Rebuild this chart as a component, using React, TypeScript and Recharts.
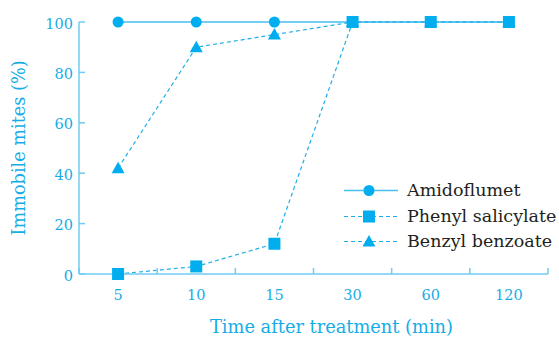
import React from 'react';
import { LineChart, Line, XAxis, YAxis, Legend } from 'recharts';

const categories = ['5', '10', '15', '30', '60', '120'];
const amidoflumet = [100, 100, 100, 100, 100, 100];
const phenylSalicylate = [0, 3, 12, 100, 100, 100];
const benzylBenzoate = [42, 90, 95, 100, 100, 100];
const yTicks = [0, 20, 40, 60, 80, 100];

const FONT = 'DejaVu Serif';
const MARK = '#00AEEF';
const SOLID = '#45BFEF';
const DASH = '#1FAFE8';
const AXIS = '#6FCDF3';
const TEXT = '#16ACE6';

const data = categories.map((c, i) => ({
  pos: i + 0.5,
  label: c,
  amidoflumet: amidoflumet[i],
  phenyl: phenylSalicylate[i],
  benzyl: benzylBenzoate[i],
}));

const xTicks: number[] = categories.flatMap((_, i) => [i, i + 0.5]).concat([categories.length]);

type Shape = 'circle' | 'square' | 'triangle';

const drawMarker = (shape: Shape, cx: number, cy: number, key?: string) => {
  if (shape === 'circle') return <circle key={key} cx={cx} cy={cy} r={5.5} fill={MARK} />;
  if (shape === 'square') return <rect key={key} x={cx - 6} y={cy - 6} width={12} height={12} fill={MARK} />;
  return (
    <polygon
      key={key}
      points={`${cx},${cy - 6.5} ${cx + 6.5},${cy + 5} ${cx - 6.5},${cy + 5}`}
      fill={MARK}
    />
  );
};

const series = [
  { key: 'amidoflumet', name: 'Amidoflumet', shape: 'circle' as Shape, stroke: SOLID, dash: undefined as string | undefined, width: 1.5 },
  { key: 'phenyl', name: 'Phenyl salicylate', shape: 'square' as Shape, stroke: DASH, dash: '4 3', width: 1.2 },
  { key: 'benzyl', name: 'Benzyl benzoate', shape: 'triangle' as Shape, stroke: DASH, dash: '4 3', width: 1.2 },
];

const drawOrder = ['amidoflumet', 'benzyl', 'phenyl'];

const XTick = (props: any) => {
  const { x, y, payload } = props;
  const v = payload.value as number;
  if (Number.isInteger(v)) {
    return <line x1={x} x2={x} y1={y} y2={y - 6} stroke={AXIS} strokeWidth={1.5} />;
  }
  return (
    <text x={x} y={y + 26} textAnchor="middle" fill={TEXT} fontSize={14.5} style={{ fontFamily: FONT }}>
      {categories[Math.floor(v)]}
    </text>
  );
};

const renderLegend = () => (
  <div style={{ fontFamily: FONT, fontSize: 17.5, color: '#231F20' }}>
    {series.map((s) => (
      <div key={s.key} style={{ display: 'flex', alignItems: 'center', height: 25.5, whiteSpace: 'nowrap' }}>
        <svg width={54} height={25} style={{ display: 'block' }}>
          <line x1={0} x2={54} y1={12.5} y2={12.5} stroke={s.stroke} strokeWidth={s.width} strokeDasharray={s.dash} />
          {drawMarker(s.shape, 25, 12.5)}
        </svg>
        <span style={{ marginLeft: 9, lineHeight: '25.5px' }}>{s.name}</span>
      </div>
    ))}
  </div>
);

export default function App() {
  return (
    <div style={{ position: 'absolute', left: 0, top: 0, background: '#fff' }}>
      <LineChart width={559} height={338} data={data} margin={{ top: 22, right: 11, bottom: 0, left: 0 }}>
        <XAxis
          dataKey="pos"
          type="number"
          domain={[0, categories.length]}
          ticks={xTicks}
          interval={0}
          tickLine={false}
          tickSize={0}
          tickMargin={0}
          height={64}
          axisLine={{ stroke: AXIS, strokeWidth: 1.5 }}
          tick={XTick}
          label={{
            value: 'Time after treatment (min)',
            position: 'insideBottom',
            offset: 5,
            dx: 18,
            fill: TEXT,
            fontSize: 17.8,
            style: { fontFamily: FONT },
          }}
        />
        <YAxis
          type="number"
          domain={[0, 100]}
          ticks={yTicks}
          interval={0}
          width={79}
          tickSize={-6}
          tickMargin={12}
          axisLine={{ stroke: AXIS, strokeWidth: 1.5 }}
          tickLine={{ stroke: AXIS, strokeWidth: 1.5 }}
          tick={{ fill: TEXT, fontSize: 14.5, style: { fontFamily: FONT }, dy: 1.5 }}
          label={{
            value: 'Immobile mites (%)',
            angle: -90,
            position: 'center',
            dx: -21,
            fill: TEXT,
            fontSize: 17.7,
            style: { fontFamily: FONT },
          }}
        />
        <Legend
          layout="horizontal"
          verticalAlign="middle"
          align="center"
          wrapperStyle={{ left: 344, top: 178, width: 'auto' }}
          content={renderLegend}
        />
        {drawOrder.map((k) => {
          const s = series.find((x) => x.key === k)!;
          return (
            <Line
              key={s.key}
              dataKey={s.key}
              name={s.name}
              type="linear"
              stroke={s.stroke}
              strokeWidth={s.width}
              strokeDasharray={s.dash}
              isAnimationActive={false}
              dot={(p: any) => drawMarker(s.shape, p.cx, p.cy, `${s.key}-${p.index}`)}
              activeDot={false}
            />
          );
        })}
      </LineChart>
    </div>
  );
}
